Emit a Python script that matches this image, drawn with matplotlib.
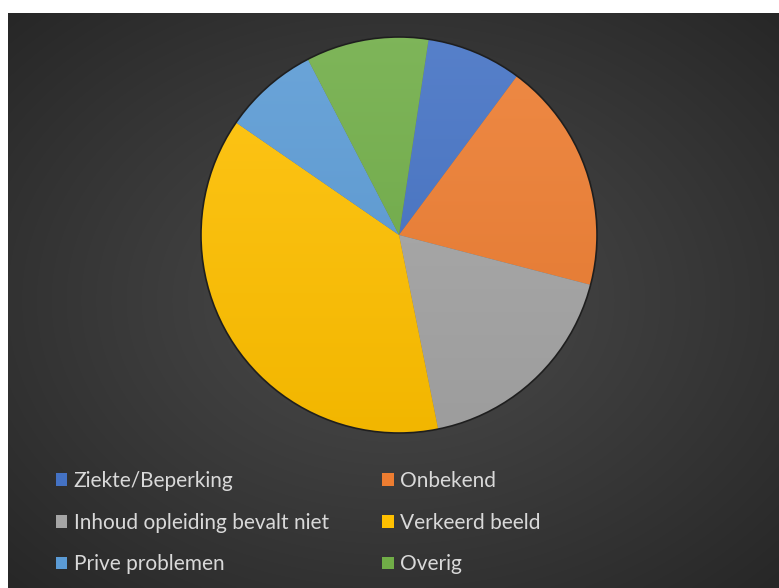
import numpy as np
import matplotlib.pyplot as plt
from matplotlib.colors import to_rgb
from matplotlib.patches import Patch

# data (counts)
labels = ["Ziekte/Beperking", "Onbekend", "Inhoud opleiding bevalt niet",
          "Verkeerd beeld", "Prive problemen", "Overig"]
values = [7, 17, 16, 34, 7, 9]
colors = ["#4472C4", "#ED7D31", "#A5A5A5", "#FFC000", "#5B9BD5", "#70AD47"]

W, H = 779, 588
fig = plt.figure(figsize=(W / 100, H / 100), dpi=100)
fig.patch.set_facecolor("white")

# dark radial background (chart area, white strip top/left)
bg = fig.add_axes([8 / W, 0, (W - 8) / W, (H - 13) / H])
yy, xx = np.mgrid[-1:1:300j, -1:1:400j]
rr = np.sqrt(xx ** 2 + yy ** 2) / np.sqrt(2)
c_in = np.array(to_rgb("#4a4a4a"))
c_out = np.array(to_rgb("#272727"))
t = np.clip(rr, 0, 1)[..., None] ** 1.1
img = c_in * (1 - t) + c_out * t
bg.imshow(img, extent=[-1, 1, -1, 1], aspect="auto", interpolation="bilinear")
bg.set_axis_off()

# pie
ax = fig.add_axes([199 / W, 153 / H, 400 / W, 400 / H])
ax.set_facecolor("none")
wedges, _ = ax.pie(values, colors=colors, startangle=81.4, counterclock=False,
                   radius=1.0, wedgeprops=dict(edgecolor="#6b6b6b", linewidth=0.5))

gy = np.linspace(1, -1, 200)[:, None] * np.ones((1, 2))
for w, c in zip(wedges, colors):
    base = np.array(to_rgb(c))
    light = base + (1 - base) * 0.10
    dark = base * 0.95
    f = ((1 - gy) / 2)[..., None]
    grad = light * (1 - f) + dark * f
    im = ax.imshow(grad, extent=[-1, 1, -1, 1], aspect="auto", zorder=w.get_zorder() + 0.1,
                   interpolation="bilinear")
    im.set_clip_path(w)

# subtle rim
rim = plt.Circle((0, 0), 1.0, fill=False, edgecolor="#1e1e1e", linewidth=1.2, zorder=5)
ax.add_patch(rim)
ax.set_xlim(-1.01, 1.01)
ax.set_ylim(-1.01, 1.01)
ax.set_aspect("equal")
ax.set_axis_off()

# legend, row-major order like the original
order = [0, 2, 4, 1, 3, 5]
handles = [Patch(facecolor=colors[i], edgecolor="none") for i in order]
leg = fig.legend(handles, [labels[i] for i in order], ncol=2,
                 loc="upper left", bbox_to_anchor=(37 / W, 1 - 452 / H),
                 frameon=False, handlelength=0.55, handleheight=0.55,
                 handletextpad=0.32, columnspacing=2.55, labelspacing=1.05,
                 prop={"family": "Lato", "size": 15})
for txt in leg.get_texts():
    txt.set_color("#d9d9d9")

fig.savefig("out.png", dpi=100, facecolor=fig.get_facecolor())
